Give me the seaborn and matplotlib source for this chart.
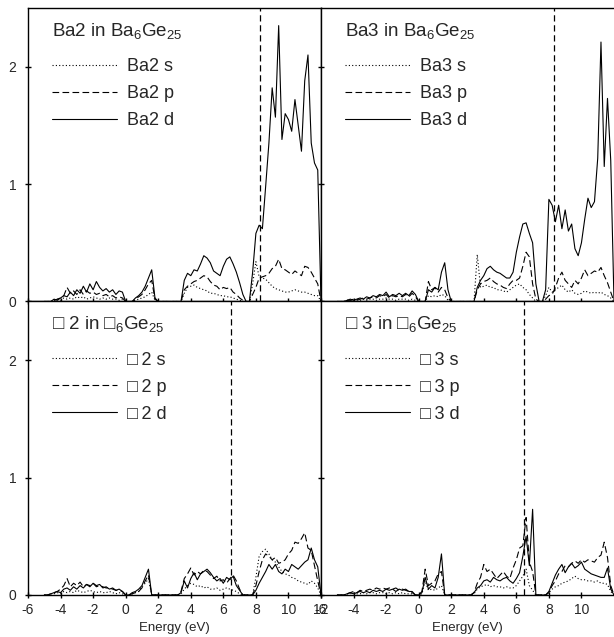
import numpy as np
import matplotlib
matplotlib.use("Agg")
import matplotlib.pyplot as plt
import seaborn as sns

# energy grid (eV), -5.0 .. 12.0 every 0.2
energy = np.round(np.arange(-5.0, 12.01, 0.2), 1)

# Ba2 in Ba6Ge25
ba2_s = [0, 0, 0, 0.01, 0.02, 0.01, 0.03, 0.02, 0.03, 0.02, 0.04, 0.03, 0.04, 0.02, 0.03, 0.04, 0.03, 0.02, 0.03, 0.02, 0.03, 0.02, 0.02, 0.01, 0.02, 0,
         0, 0, 0.01, 0.02, 0.03, 0.04, 0.06, 0.08, 0.01, 0,
         0, 0, 0, 0, 0, 0, 0, 0.07, 0.12, 0.13, 0.14, 0.12, 0.11, 0.10, 0.09, 0.07, 0.07, 0.06, 0.05, 0.05, 0.04, 0.04, 0.03, 0.02, 0.01, 0,
         0, 0, 0.15, 0.34, 0.21, 0.20, 0.19, 0.16, 0.13, 0.11, 0.10, 0.09, 0.08, 0.08, 0.09, 0.10, 0.09, 0.08, 0.08, 0.07, 0.06, 0.05, 0.05, 0]
ba2_p = [0, 0, 0, 0.01, 0.02, 0.03, 0.05, 0.12, 0.07, 0.09, 0.06, 0.10, 0.06, 0.09, 0.07, 0.08, 0.06, 0.07, 0.05, 0.06, 0.04, 0.05, 0.03, 0.04, 0.03, 0,
         0, 0, 0.02, 0.04, 0.06, 0.10, 0.15, 0.18, 0.02, 0,
         0, 0, 0, 0, 0, 0, 0, 0.10, 0.13, 0.15, 0.17, 0.18, 0.20, 0.22, 0.21, 0.17, 0.14, 0.13, 0.10, 0.12, 0.11, 0.12, 0.08, 0.06, 0.03, 0.01,
         0, 0, 0.06, 0.12, 0.20, 0.21, 0.22, 0.24, 0.28, 0.30, 0.36, 0.28, 0.27, 0.25, 0.23, 0.26, 0.24, 0.22, 0.30, 0.29, 0.25, 0.20, 0.15, 0]
ba2_d = [0, 0, 0, 0.02, 0.01, 0.03, 0.05, 0.04, 0.08, 0.05, 0.10, 0.07, 0.13, 0.08, 0.15, 0.10, 0.17, 0.12, 0.09, 0.11, 0.08, 0.10, 0.06, 0.09, 0.08, 0,
         0, 0, 0.03, 0.05, 0.08, 0.13, 0.20, 0.27, 0.03, 0,
         0, 0, 0, 0, 0, 0, 0, 0.18, 0.24, 0.22, 0.27, 0.26, 0.32, 0.39, 0.37, 0.33, 0.26, 0.24, 0.22, 0.30, 0.36, 0.38, 0.32, 0.25, 0.16, 0.06,
         0, 0, 0.25, 0.58, 0.65, 0.62, 0.98, 1.35, 1.82, 1.57, 2.35, 1.38, 1.60, 1.55, 1.45, 1.72, 1.50, 1.28, 1.88, 2.10, 1.35, 1.18, 1.12, 0]

# Ba3 in Ba6Ge25
ba3_s = [0, 0, 0, 0.01, 0.01, 0.01, 0.02, 0.01, 0.02, 0.01, 0.02, 0.02, 0.01, 0.02, 0.02, 0.03, 0.02, 0.02, 0.01, 0.02, 0.02, 0.02, 0.01, 0.02, 0.01, 0,
         0, 0, 0.05, 0.04, 0.05, 0.04, 0.06, 0.05, 0.01, 0,
         0, 0, 0, 0, 0, 0, 0, 0.40, 0.12, 0.13, 0.14, 0.12, 0.12, 0.10, 0.10, 0.09, 0.08, 0.10, 0.12, 0.14, 0.15, 0.12, 0.10, 0.06, 0.03, 0,
         0, 0, 0.05, 0.12, 0.08, 0.10, 0.12, 0.14, 0.10, 0.08, 0.10, 0.07, 0.06, 0.07, 0.09, 0.08, 0.07, 0.08, 0.07, 0.08, 0.06, 0.05, 0.03, 0]
ba3_p = [0, 0, 0, 0.01, 0.01, 0.02, 0.01, 0.02, 0.03, 0.02, 0.03, 0.04, 0.03, 0.05, 0.04, 0.06, 0.03, 0.05, 0.04, 0.05, 0.04, 0.06, 0.04, 0.07, 0.04, 0,
         0, 0, 0.17, 0.10, 0.12, 0.08, 0.12, 0.10, 0.03, 0,
         0, 0, 0, 0, 0, 0, 0, 0.10, 0.15, 0.17, 0.18, 0.20, 0.17, 0.15, 0.14, 0.12, 0.11, 0.15, 0.18, 0.18, 0.20, 0.30, 0.42, 0.38, 0.15, 0.02,
         0, 0, 0.02, 0.05, 0.06, 0.12, 0.20, 0.25, 0.18, 0.15, 0.12, 0.18, 0.15, 0.20, 0.27, 0.22, 0.24, 0.26, 0.25, 0.29, 0.22, 0.16, 0.08, 0]
ba3_d = [0, 0, 0, 0.01, 0.02, 0.01, 0.02, 0.03, 0.02, 0.04, 0.03, 0.05, 0.04, 0.06, 0.05, 0.08, 0.04, 0.06, 0.05, 0.07, 0.05, 0.07, 0.05, 0.09, 0.06, 0,
         0, 0, 0.10, 0.08, 0.12, 0.10, 0.25, 0.33, 0.10, 0,
         0, 0, 0, 0, 0, 0, 0, 0.12, 0.18, 0.22, 0.28, 0.30, 0.27, 0.25, 0.24, 0.22, 0.20, 0.20, 0.25, 0.42, 0.55, 0.66, 0.67, 0.58, 0.50, 0.15,
         0, 0, 0.10, 0.87, 0.82, 0.68, 0.82, 0.62, 0.78, 0.60, 0.66, 0.45, 0.39, 0.50, 0.70, 0.88, 0.80, 0.85, 1.22, 2.21, 1.15, 1.73, 1.20, 0]

# vacancy 2 in []6Ge25
v2_s = [0, 0, 0.01, 0.01, 0.02, 0.01, 0.03, 0.02, 0.03, 0.02, 0.04, 0.03, 0.02, 0.03, 0.04, 0.03, 0.02, 0.03, 0.02, 0.02, 0.03, 0.02, 0.01, 0.02, 0.01, 0,
        0, 0.01, 0.02, 0.03, 0.07, 0.10, 0.14, 0, 0, 0,
        0, 0, 0, 0, 0, 0, 0.01, 0.05, 0.08, 0.10, 0.09, 0.07, 0.08, 0.06, 0.07, 0.05, 0.05, 0.06, 0.04, 0.05, 0.06, 0.05, 0.04, 0.03, 0.01, 0,
        0, 0, 0, 0.15, 0.33, 0.37, 0.39, 0.35, 0.30, 0.28, 0.24, 0.20, 0.18, 0.17, 0.15, 0.14, 0.12, 0.11, 0.10, 0.09, 0.12, 0.10, 0.06, 0]
v2_p = [0, 0, 0.01, 0.02, 0.03, 0.05, 0.08, 0.14, 0.07, 0.10, 0.08, 0.11, 0.07, 0.09, 0.08, 0.10, 0.07, 0.08, 0.07, 0.06, 0.06, 0.05, 0.04, 0.04, 0.03, 0,
        0, 0.01, 0.02, 0.03, 0.06, 0.12, 0.17, 0, 0, 0,
        0, 0, 0, 0, 0, 0, 0.03, 0.14, 0.18, 0.23, 0.17, 0.20, 0.18, 0.21, 0.20, 0.17, 0.14, 0.16, 0.12, 0.13, 0.10, 0.14, 0.17, 0.12, 0.05, 0,
        0, 0, 0, 0.08, 0.20, 0.30, 0.35, 0.33, 0.30, 0.32, 0.27, 0.28, 0.30, 0.35, 0.38, 0.45, 0.44, 0.48, 0.53, 0.40, 0.38, 0.25, 0.12, 0]
v2_d = [0, 0, 0.01, 0.02, 0.03, 0.02, 0.05, 0.06, 0.04, 0.07, 0.05, 0.08, 0.06, 0.09, 0.07, 0.10, 0.08, 0.09, 0.06, 0.07, 0.05, 0.06, 0.04, 0.05, 0.03, 0,
        0, 0.02, 0.03, 0.05, 0.08, 0.15, 0.22, 0, 0, 0,
        0, 0, 0, 0, 0, 0, 0.02, 0.12, 0.06, 0.14, 0.19, 0.13, 0.18, 0.20, 0.22, 0.19, 0.15, 0.12, 0.14, 0.10, 0.15, 0.13, 0.16, 0.08, 0.04, 0,
        0, 0, 0, 0.04, 0.10, 0.15, 0.20, 0.26, 0.22, 0.26, 0.20, 0.18, 0.22, 0.20, 0.26, 0.24, 0.22, 0.25, 0.28, 0.30, 0.40, 0.30, 0.24, 0]

# vacancy 3 in []6Ge25
v3_s = [0, 0, 0, 0.01, 0.01, 0.02, 0.01, 0.01, 0.02, 0.01, 0.02, 0.02, 0.01, 0.02, 0.02, 0.01, 0.02, 0.01, 0.02, 0.01, 0.02, 0.01, 0.01, 0.01, 0, 0,
        0.01, 0.12, 0.04, 0.05, 0.04, 0.06, 0.08, 0, 0, 0,
        0, 0, 0, 0, 0, 0, 0.01, 0.05, 0.07, 0.08, 0.09, 0.07, 0.08, 0.07, 0.07, 0.06, 0.07, 0.06, 0.06, 0.08, 0.12, 0.16, 0.22, 0.08, 0.04, 0,
        0, 0, 0, 0.02, 0.05, 0.07, 0.08, 0.10, 0.11, 0.12, 0.14, 0.16, 0.14, 0.13, 0.13, 0.12, 0.12, 0.11, 0.12, 0.10, 0.10, 0.09, 0.03, 0]
v3_p = [0, 0, 0, 0.01, 0.02, 0.03, 0.02, 0.04, 0.03, 0.04, 0.05, 0.04, 0.06, 0.05, 0.06, 0.05, 0.06, 0.05, 0.06, 0.04, 0.05, 0.04, 0.03, 0.02, 0, 0,
        0.03, 0.22, 0.08, 0.10, 0.12, 0.18, 0.20, 0, 0, 0,
        0, 0, 0, 0, 0, 0, 0.02, 0.10, 0.15, 0.26, 0.20, 0.22, 0.18, 0.14, 0.17, 0.20, 0.16, 0.14, 0.23, 0.30, 0.40, 0.42, 0.66, 0.28, 0.20, 0,
        0, 0, 0, 0.02, 0.08, 0.12, 0.18, 0.20, 0.25, 0.24, 0.27, 0.29, 0.27, 0.30, 0.28, 0.30, 0.29, 0.28, 0.32, 0.34, 0.45, 0.32, 0.08, 0]
v3_d = [0, 0, 0, 0.01, 0.02, 0.01, 0.02, 0.03, 0.02, 0.03, 0.02, 0.04, 0.03, 0.04, 0.03, 0.05, 0.04, 0.05, 0.03, 0.05, 0.04, 0.05, 0.03, 0.03, 0, 0,
        0.02, 0.15, 0.05, 0.08, 0.06, 0.15, 0.35, 0, 0, 0,
        0, 0, 0, 0, 0, 0, 0.02, 0.06, 0.08, 0.12, 0.13, 0.11, 0.15, 0.13, 0.12, 0.14, 0.15, 0.12, 0.10, 0.14, 0.19, 0.33, 0.50, 0.25, 0.73, 0,
        0, 0, 0, 0.03, 0.10, 0.17, 0.22, 0.26, 0.19, 0.24, 0.27, 0.23, 0.25, 0.28, 0.22, 0.20, 0.18, 0.17, 0.16, 0.15, 0.15, 0.23, 0.05, 0]

site_names = ["Ba2", "Ba3", "\u25a1\u20092", "\u25a1\u20093"]
titles = [r"Ba2 in Ba$_6$Ge$_{25}$", r"Ba3 in Ba$_6$Ge$_{25}$",
          "$\\mathrm{\u25a1}$ 2 in $\\mathrm{\u25a1}_6$Ge$_{25}$",
          "$\\mathrm{\u25a1}$ 3 in $\\mathrm{\u25a1}_6$Ge$_{25}$"]
fermi = [8.25, 8.3, 6.5, 6.5]
pdos = [(ba2_s, ba2_p, ba2_d), (ba3_s, ba3_p, ba3_d), (v2_s, v2_p, v2_d), (v3_s, v3_p, v3_d)]

sns.set_style("ticks")
plt.rcParams["font.family"] = ["Liberation Sans", "DejaVu Sans"]
plt.rcParams["mathtext.fontset"] = "custom"
plt.rcParams["mathtext.rm"] = "Liberation Sans"
plt.rcParams["mathtext.it"] = "Liberation Sans:italic"
plt.rcParams["mathtext.default"] = "regular"
plt.rcParams["mathtext.fallback"] = "stixsans"
plt.rcParams["axes.unicode_minus"] = False

dotted = (0, (1, 2))
dashed = (0, (6, 3))

fig, axes = plt.subplots(2, 2, figsize=(6.14, 6.37), dpi=100)
fig.subplots_adjust(left=28 / 614, right=1.0, top=1 - 8 / 637, bottom=1 - 595 / 637, wspace=0, hspace=0)

for k, ax in enumerate(axes.flat):
    s, p, d = pdos[k]
    sns.lineplot(x=energy, y=s, ax=ax, color="black", linewidth=0.8, linestyle=dotted, label=site_names[k] + " s")
    sns.lineplot(x=energy, y=p, ax=ax, color="black", linewidth=0.8, linestyle=dashed, label=site_names[k] + " p")
    sns.lineplot(x=energy, y=d, ax=ax, color="black", linewidth=0.8, linestyle="-", label=site_names[k] + " d")
    ax.axvline(fermi[k], color="black", linewidth=0.9, linestyle=(0, (5, 3)))

    ax.set_xlim(-6, 12)
    ax.set_ylim(0, 2.5)
    ax.set_yticks([0, 1, 2])
    row, col = divmod(k, 2)
    if col == 0:
        ax.set_xticks(range(-6, 13, 2))
    else:
        ax.set_xticks(range(-6, 11, 2))
        ax.spines["right"].set_visible(False)
    for sp in ax.spines.values():
        sp.set_linewidth(1.0)
        sp.set_color("black")
    ax.tick_params(direction="inout", length=5, width=1, labelsize=10, color="black")
    ax.tick_params(axis="y", pad=6, labelleft=(col == 0))
    ax.tick_params(axis="x", pad=3.5, labelbottom=(row == 1))
    ax.set_ylabel("")
    if row == 1:
        ax.set_xlabel("Energy (eV)", fontsize=9.5, labelpad=3)
    else:
        ax.set_xlabel("")

    ax.text(0.082, 0.957, titles[k], transform=ax.transAxes, ha="left", va="top", fontsize=13.5)
    ax.legend(loc="upper left", bbox_to_anchor=(0.082, 0.829), frameon=False,
              fontsize=13, handlelength=3.6, handletextpad=0.55, labelspacing=0.55,
              borderpad=0, borderaxespad=0)

fig.savefig("out.png", dpi=100)
